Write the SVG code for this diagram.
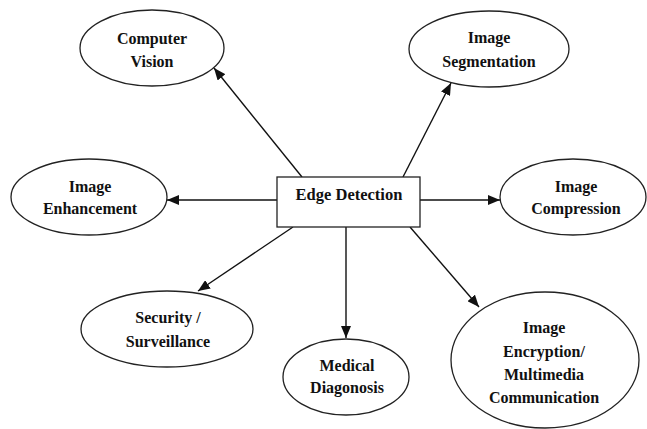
<svg xmlns="http://www.w3.org/2000/svg" width="647" height="429" viewBox="0 0 647 429">
<style>
.n ellipse,.n rect{fill:#fff;stroke:#222;stroke-width:1.3}
text{font-family:"Liberation Serif","Times New Roman",serif;font-weight:bold;font-size:16px;fill:#111;text-anchor:middle}
.c line{stroke:#111;stroke-width:1.4}
</style>
<defs>
<marker id="a" viewBox="0 0 12 10" refX="12" refY="5" markerWidth="12" markerHeight="10" markerUnits="userSpaceOnUse" orient="auto">
<path d="M0,0L12,5L0,10z" fill="#111"/>
</marker>
</defs>
<rect width="647" height="429" fill="#fff"/>
<g class="c">
<line x1="302" y1="177" x2="214" y2="68" marker-end="url(#a)"/>
<line x1="277" y1="200" x2="167" y2="200" marker-end="url(#a)"/>
<line x1="403" y1="177" x2="451" y2="83" marker-end="url(#a)"/>
<line x1="420" y1="200" x2="500" y2="200" marker-end="url(#a)"/>
<line x1="293" y1="227" x2="198" y2="291" marker-end="url(#a)"/>
<line x1="346" y1="227" x2="346" y2="338" marker-end="url(#a)"/>
<line x1="410" y1="227" x2="479" y2="307" marker-end="url(#a)"/>
</g>
<g id="edge" class="n"><rect x="277" y="177" width="143" height="50"/><text x="349" y="200" style="font-size:16.5px">Edge Detection</text></g>
<g id="cv" class="n"><ellipse cx="152" cy="48" rx="72" ry="38"/><text x="152" y="44">Computer</text><text x="152" y="67">Vision</text></g>
<g id="seg" class="n"><ellipse cx="489" cy="49" rx="80" ry="38"/><text x="489" y="43">Image</text><text x="489" y="67">Segmentation</text></g>
<g id="enh" class="n"><ellipse cx="89" cy="197" rx="78" ry="38"/><text x="90" y="192">Image</text><text x="90" y="214">Enhancement</text></g>
<g id="comp" class="n"><ellipse cx="573" cy="197" rx="73" ry="38"/><text x="576" y="192">Image</text><text x="576" y="214">Compression</text></g>
<g id="sec" class="n"><ellipse cx="167" cy="329" rx="86" ry="38"/><text x="168" y="323">Security /</text><text x="168" y="347">Surveillance</text></g>
<g id="med" class="n"><ellipse cx="346" cy="377" rx="63" ry="38"/><text x="347" y="371">Medical</text><text x="347" y="393">Diagonosis</text></g>
<g id="enc" class="n"><ellipse cx="545" cy="360" rx="94" ry="68"/><text x="544" y="333">Image</text><text x="544" y="357">Encryption/</text><text x="544" y="380">Multimedia</text><text x="544" y="403">Communication</text></g>
</svg>
